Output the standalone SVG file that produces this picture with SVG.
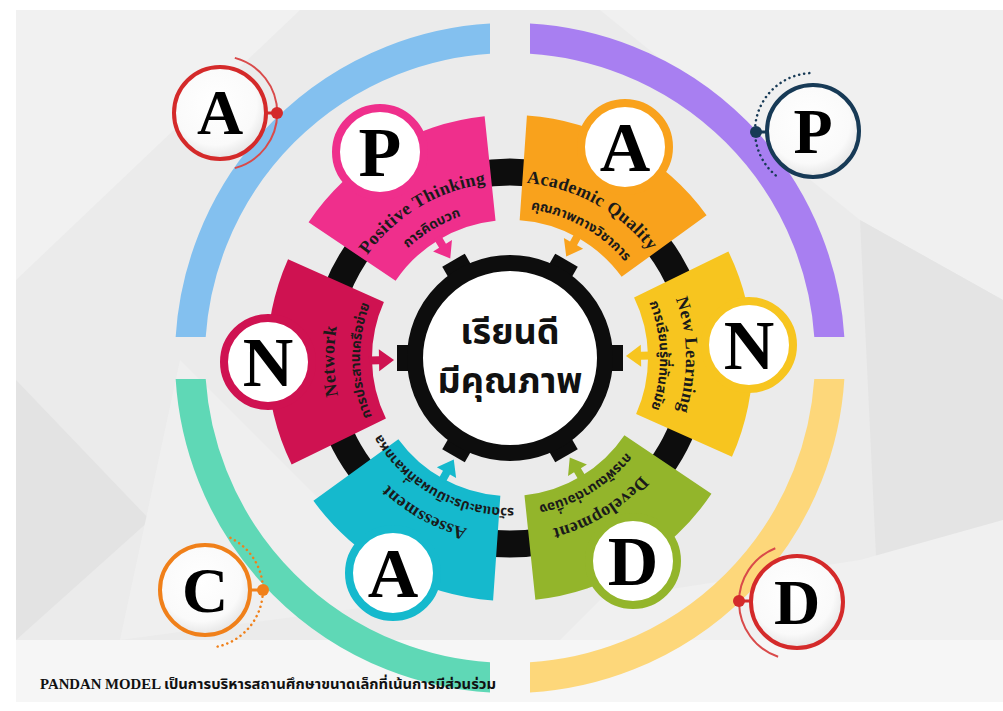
<svg xmlns="http://www.w3.org/2000/svg" width="1003" height="711" viewBox="0 0 1003 711">
<style>
.big{font-family:"Liberation Serif","DejaVu Serif",serif;font-weight:bold;text-anchor:middle}
.en{font-family:"Liberation Serif","DejaVu Serif",serif;font-weight:bold;font-size:18px;letter-spacing:0.4px;fill:#1a1a1a}
.th{font-family:"Noto Sans Thai","Noto Serif Thai","Loma","Garuda",sans-serif;font-weight:bold;font-size:13.5px;fill:#1a1a1a}
.ctr{font-family:"Noto Sans Thai","Noto Serif Thai","Loma","Garuda",sans-serif;font-weight:bold;font-size:36px;fill:#111;text-anchor:middle}
</style>
<defs>
<clipPath id="qTL"><rect x="0" y="0" width="490" height="337"/></clipPath>
<clipPath id="qTR"><rect x="530" y="0" width="473" height="337"/></clipPath>
<clipPath id="qBL"><rect x="0" y="379" width="490" height="332"/></clipPath>
<clipPath id="qBR"><rect x="530" y="379" width="473" height="332"/></clipPath>
<path id="petal" d="M 220.2 -102.7 A 243 243 0 0 1 220.2 102.7 L 125.1 58.3 A 138 138 0 0 0 125.1 -58.3 Z"/>
<path id="arrow" d="M 141 -4 L 131 -4 L 131 -11 L 116 0 L 131 11 L 131 4 L 141 4 Z"/>
<path id="arcE" d="M 152.4 -88 A 176 176 0 0 1 152.4 88"/>
<path id="arcT" d="M 129.9 -75 A 150 150 0 0 1 129.9 75"/>
<rect id="tooth" x="98" y="-13" width="15" height="26"/>
<radialGradient id="bw" cx="0.45" cy="0.4" r="0.6">
<stop offset="0" stop-color="#ffffff"/><stop offset="0.75" stop-color="#fafafa"/><stop offset="1" stop-color="#e6e6e6"/>
</radialGradient>
</defs>

<!-- background -->
<rect x="0" y="0" width="1003" height="711" fill="#ffffff"/>
<rect x="16" y="10" width="987" height="692" fill="#ebebeb"/>
<polygon points="16,10 300,10 16,280" fill="#f1f1f1"/>
<polygon points="600,10 1003,10 1003,300 860,220" fill="#f0f0f0"/>
<polygon points="860,220 1003,300 1003,520 880,640" fill="#e4e4e4"/>
<polygon points="16,380 150,520 16,640" fill="#e3e3e3"/>
<polygon points="180,360 420,600 120,640" fill="#efefef"/>
<polygon points="600,600 860,560 1003,520 1003,640 560,640" fill="#f0f0f0"/>
<rect x="16" y="640" width="987" height="62" fill="#f6f6f6"/>

<!-- outer quarter arcs -->
<g id="outer-arcs" fill="none" stroke-width="30">
<circle cx="510" cy="358" r="320" stroke="#83c0ef" clip-path="url(#qTL)"/>
<circle cx="510" cy="358" r="320" stroke="#a87ff1" clip-path="url(#qTR)"/>
<circle cx="510" cy="358" r="320" stroke="#5fd8b6" clip-path="url(#qBL)"/>
<circle cx="510" cy="358" r="320" stroke="#fdd77a" clip-path="url(#qBR)"/>
</g>

<!-- connectors: black ring -->
<g id="connectors">
<circle cx="510" cy="358" r="186" fill="none" stroke="#0d0d0d" stroke-width="27"/>
</g>

<!-- petals -->
<g id="petal-positive">
<g transform="translate(510,358) rotate(-121)">
<use href="#petal" fill="#ef2f8c"/><use href="#arrow" fill="#ef2f8c"/>
<text class="en"><textPath href="#arcE" startOffset="50%" text-anchor="middle">Positive Thinking</textPath></text>
<text class="th" font-size="15"><textPath href="#arcT" startOffset="50%" text-anchor="middle">การคิดบวก</textPath></text>
</g>
<circle cx="380" cy="152" r="44" fill="#fff" stroke="#ef2f8c" stroke-width="8"/>
<text class="big" x="380" y="176" font-size="70">P</text>
</g>

<g id="petal-academic">
<g transform="translate(510,358) rotate(-61)">
<use href="#petal" fill="#f9a21c"/><use href="#arrow" fill="#f9a21c"/>
<text class="en"><textPath href="#arcE" startOffset="50%" text-anchor="middle">Academic Quality</textPath></text>
<text class="th"><textPath href="#arcT" startOffset="50%" text-anchor="middle">คุณภาพทางวิชาการ</textPath></text>
</g>
<circle cx="625" cy="147" r="44" fill="#fff" stroke="#f9a21c" stroke-width="8"/>
<text class="big" x="625" y="171" font-size="70">A</text>
</g>

<g id="petal-newlearning">
<g transform="translate(510,358) rotate(-1)">
<use href="#petal" fill="#f7c51f"/><use href="#arrow" fill="#f7c51f"/>
<text class="en"><textPath href="#arcE" startOffset="50%" text-anchor="middle">New Learning</textPath></text>
<text class="th"><textPath href="#arcT" startOffset="50%" text-anchor="middle">การเรียนรู้ที่ทันสมัย</textPath></text>
</g>
<circle cx="749" cy="345" r="44" fill="#fff" stroke="#f7c51f" stroke-width="8"/>
<text class="big" x="749" y="369" font-size="70">N</text>
</g>

<g id="petal-development">
<g transform="translate(510,358) rotate(59)">
<use href="#petal" fill="#93b52b"/><use href="#arrow" fill="#93b52b"/>
<text class="en"><textPath href="#arcE" startOffset="50%" text-anchor="middle">Development</textPath></text>
<text class="th"><textPath href="#arcT" startOffset="50%" text-anchor="middle">การพัฒนาต่อเนื่อง</textPath></text>
</g>
<circle cx="633" cy="561" r="44" fill="#fff" stroke="#93b52b" stroke-width="8"/>
<text class="big" x="633" y="585" font-size="70">D</text>
</g>

<g id="petal-assessment">
<g transform="translate(510,358) rotate(119)">
<use href="#petal" fill="#15b9cd"/><use href="#arrow" fill="#15b9cd"/>
<text class="en"><textPath href="#arcE" startOffset="50%" text-anchor="middle">Assessment</textPath></text>
<text class="th" font-size="11"><textPath href="#arcT" startOffset="50%" text-anchor="middle">การวัดและประเมินผลที่หลากหลาย</textPath></text>
</g>
<circle cx="393" cy="573" r="44" fill="#fff" stroke="#15b9cd" stroke-width="8"/>
<text class="big" x="393" y="597" font-size="70">A</text>
</g>

<g id="petal-network">
<g transform="translate(510,358) rotate(179)">
<use href="#petal" fill="#cf1251"/><use href="#arrow" fill="#cf1251"/>
<text class="en"><textPath href="#arcE" startOffset="50%" text-anchor="middle">Network</textPath></text>
<text class="th"><textPath href="#arcT" startOffset="50%" text-anchor="middle">การประสานเครือข่าย</textPath></text>
</g>
<circle cx="268" cy="362" r="44" fill="#fff" stroke="#cf1251" stroke-width="8"/>
<text class="big" x="268" y="386" font-size="70">N</text>
</g>

<!-- center gear -->
<g id="center">
<g transform="translate(510,358)" fill="#0d0d0d">
<use href="#tooth"/><use href="#tooth" transform="rotate(60)"/><use href="#tooth" transform="rotate(120)"/>
<use href="#tooth" transform="rotate(180)"/><use href="#tooth" transform="rotate(240)"/><use href="#tooth" transform="rotate(300)"/>
</g>
<circle cx="510" cy="358" r="95" fill="#fff" stroke="#0d0d0d" stroke-width="16"/>
<text class="ctr" x="510" y="344">เรียนดี</text>
<text class="ctr" x="510" y="393">มีคุณภาพ</text>
</g>

<!-- outer badges -->
<g id="badge-A">
<path d="M 234.8 57.9 A 57 57 0 0 1 234.8 168.1" fill="none" stroke="#d94a4a" stroke-width="2"/>
<line x1="267" y1="113" x2="277" y2="113" stroke="#d42a2a" stroke-width="3"/>
<circle cx="220" cy="113" r="46" fill="url(#bw)" stroke="#d42a2a" stroke-width="4"/>
<circle cx="277" cy="113" r="6" fill="#d42a2a"/>
<text class="big" x="220" y="134" font-size="64">A</text>
</g>
<g id="badge-P">
<path d="M 775.7 175.4 A 58 58 0 0 1 813 73" fill="none" stroke="#173a56" stroke-width="2.5" stroke-dasharray="0.1 5" stroke-linecap="round"/>
<line x1="756" y1="132" x2="767" y2="132" stroke="#173a56" stroke-width="3"/>
<circle cx="813" cy="131" r="46" fill="url(#bw)" stroke="#173a56" stroke-width="4"/>
<circle cx="756" cy="132" r="6" fill="#173a56"/>
<text class="big" x="813" y="153" font-size="64">P</text>
</g>
<g id="badge-C">
<path d="M 230.4 537.9 A 58 58 0 0 1 217.1 646.7" fill="none" stroke="#f0801a" stroke-width="2.5" stroke-dasharray="0.1 5" stroke-linecap="round"/>
<line x1="250" y1="590" x2="263" y2="590" stroke="#f0801a" stroke-width="3"/>
<circle cx="205" cy="590" r="45" fill="url(#bw)" stroke="#f0801a" stroke-width="4"/>
<circle cx="263" cy="590" r="6" fill="#f0801a"/>
<text class="big" x="205" y="612" font-size="64">C</text>
</g>
<g id="badge-D">
<path d="M 778.1 656.8 A 58 58 0 0 1 775.3 548.2" fill="none" stroke="#d94a4a" stroke-width="2"/>
<line x1="739" y1="601" x2="751" y2="601" stroke="#d42a2a" stroke-width="3"/>
<circle cx="797" cy="602" r="46" fill="url(#bw)" stroke="#d42a2a" stroke-width="4"/>
<circle cx="739" cy="601" r="6" fill="#d42a2a"/>
<text class="big" x="797" y="624" font-size="64">D</text>
</g>

<!-- footer -->
<text x="40" y="689" textLength="456" lengthAdjust="spacingAndGlyphs" font-family="Liberation Serif, Noto Sans Thai, serif" font-weight="bold" font-size="14" fill="#111">PANDAN MODEL <tspan font-family="Noto Sans Thai, Noto Serif Thai, sans-serif">เป็นการบริหารสถานศึกษาขนาดเล็กที่เน้นการมีส่วนร่วม</tspan></text>
</svg>
